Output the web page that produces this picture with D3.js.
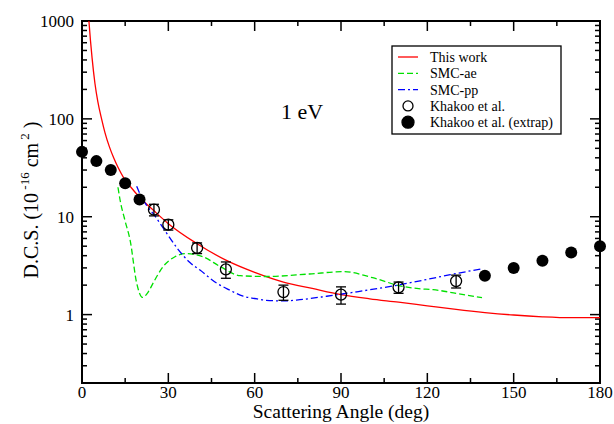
<!DOCTYPE html>
<html>
<head>
<meta charset="utf-8">
<script src="https://cdn.jsdelivr.net/npm/d3@7"></script>
<style>
  body { margin: 0; background: #fff; }
  text { font-family: "Liberation Serif", "Times New Roman", serif; }
</style>
</head>
<body>
<div id="chart"></div>
<script>
// Data
const thisWork = [[1.5,2500],[2.4,1000],[3.5,420],[4.5,230],[5.5,150],[6.8,100],[8,72],[9.5,52],[11,40],[12.5,32],[14.5,25],[17,20],[20,15.8],[25,11.5],[30,8.5],[40,5.3],[50,3.6],[60,2.7],[70,2.15],[80,1.85],[90,1.6],[100,1.45],[110,1.34],[120,1.23],[130,1.13],[140,1.05],[150,0.99],[160,0.95],[170,0.93],[180,0.93]];
const smcAe = [[12.5,20],[13.2,15],[15,9],[16.7,5.8],[19,2.1],[21,1.5],[23,1.7],[24.7,2.1],[28.2,3.1],[32.3,3.9],[35.8,4.2],[42,3.9],[48,3.1],[55,2.5],[64,2.45],[79,2.6],[91,2.75],[101,2.38],[110.5,1.97],[117,1.84],[122,1.8],[130,1.65],[139,1.49]];
const smcPp = [[19,20.5],[20,17.5],[22.5,13],[25,10.5],[29.4,6.8],[33,4.8],[37.5,3.4],[41,2.85],[46.8,2.1],[51,1.8],[56,1.54],[60,1.46],[64,1.4],[70,1.38],[75.7,1.42],[85,1.54],[95.5,1.71],[110.5,2.02],[117,2.2],[128,2.56],[139,2.94]];
const khakooAngle = [25, 30, 40, 50, 70, 90, 110, 130];
const khakooValue = [11.8, 8.3, 4.8, 2.9, 1.7, 1.6, 1.9, 2.2];
const khakooError = [1.6, 1.0, 0.6, 0.55, 0.3, 0.32, 0.25, 0.33];
const extrapAngle = [0, 5, 10, 15, 20, 140, 150, 160, 170, 180];
const extrapValue = [46, 37, 30, 22, 15, 2.5, 3.0, 3.55, 4.3, 5.0];
const xTicks = [0, 30, 60, 90, 120, 150, 180];
const yTicks = [1, 10, 100, 1000];

const width = 614, height = 424;
const margin = {top: 21, right: 14, bottom: 41, left: 82};
const iw = width - margin.left - margin.right, ih = height - margin.top - margin.bottom;

const svg = d3.select("#chart").append("svg").attr("width", width).attr("height", height);
const g = svg.append("g").attr("transform", `translate(${margin.left},${margin.top})`);

const x = d3.scaleLinear().domain([0, 180]).range([0, iw]);
const y = d3.scaleLog().domain([0.2, 1000]).range([ih, 0]);

g.append("clipPath").attr("id", "clip").append("rect").attr("width", iw).attr("height", ih);

// minor ticks for the log axis
let yMinor = [];
[0.1, 1, 10, 100].forEach(d => { for (let k = 2; k <= 9; k++) { let v = d * k; if (v >= 0.2 && v < 1000) yMinor.push(v); } });
const xMinor = d3.range(15, 180, 30);

function tickLines(sel, vals, len, side) {
  sel.selectAll(null).data(vals).enter().append("line")
    .attr("x1", d => side === "l" ? 0 : side === "r" ? iw : x(d))
    .attr("x2", d => side === "l" ? len : side === "r" ? iw - len : x(d))
    .attr("y1", d => side === "b" ? ih : side === "t" ? 0 : y(d))
    .attr("y2", d => side === "b" ? ih - len : side === "t" ? len : y(d))
    .attr("stroke", "#000").attr("stroke-width", 1.5);
}
const ticks = g.append("g");
tickLines(ticks, xTicks, 10, "b");
tickLines(ticks, xMinor, 5, "b");
tickLines(ticks, xTicks, 10, "t");
tickLines(ticks, xMinor, 5, "t");
tickLines(ticks, yTicks, 10, "l");
tickLines(ticks, yMinor, 5, "l");
tickLines(ticks, yTicks, 10, "r");
tickLines(ticks, yMinor, 5, "r");

g.append("rect").attr("width", iw).attr("height", ih)
  .attr("fill", "none").attr("stroke", "#000").attr("stroke-width", 2);

// tick labels
g.selectAll(".xl").data(xTicks).enter().append("text")
  .attr("x", d => x(d)).attr("y", ih + 15).attr("text-anchor", "middle")
  .attr("font-size", 17).text(d => d);
g.selectAll(".yl").data(yTicks).enter().append("text")
  .attr("x", -8).attr("y", d => y(d) + 6).attr("text-anchor", "end")
  .attr("font-size", 17).text(d => d);

// axis titles
svg.append("text").attr("x", margin.left + iw / 2).attr("y", 418)
  .attr("text-anchor", "middle").attr("font-size", 19.5)
  .text("Scattering Angle (deg)");
const yl = svg.append("text").attr("transform", "translate(38,200) rotate(-90)")
  .attr("text-anchor", "middle").attr("font-size", 20);
yl.append("tspan").text("D.C.S. (10");
yl.append("tspan").attr("dy", -9).attr("font-size", 13).text(" -16");
yl.append("tspan").attr("dy", 9).text(" cm");
yl.append("tspan").attr("dy", -9).attr("font-size", 13).text(" 2");
yl.append("tspan").attr("dy", 9).text(" )");

g.append("text").attr("x", 199).attr("y", 98).attr("font-size", 22).text("1 eV");

// curves
const line = d3.line().x(d => x(d[0])).y(d => y(d[1])).curve(d3.curveMonotoneX);
const curves = g.append("g").attr("clip-path", "url(#clip)");
curves.append("path").attr("d", line(thisWork)).attr("fill", "none")
  .attr("stroke", "#ff0000").attr("stroke-width", 1.3);
curves.append("path").attr("d", line(smcAe)).attr("fill", "none")
  .attr("stroke", "#00e000").attr("stroke-width", 1.3).attr("stroke-dasharray", "6,3");
curves.append("path").attr("d", line(smcPp)).attr("fill", "none")
  .attr("stroke", "#0000ff").attr("stroke-width", 1.3).attr("stroke-dasharray", "7,3,2,3");

// Khakoo measured points with error bars
const kh = khakooAngle.map((a, i) => ({a, v: khakooValue[i], e: khakooError[i]}));
const eb = g.append("g").attr("stroke", "#000").attr("stroke-width", 1.3);
kh.forEach(d => {
  const cx = x(d.a), y1 = y(d.v + d.e), y2 = y(d.v - d.e);
  eb.append("line").attr("x1", cx).attr("x2", cx).attr("y1", y1).attr("y2", y2);
  eb.append("line").attr("x1", cx - 5).attr("x2", cx + 5).attr("y1", y1).attr("y2", y1);
  eb.append("line").attr("x1", cx - 5).attr("x2", cx + 5).attr("y1", y2).attr("y2", y2);
});
g.selectAll(".kh").data(kh).enter().append("circle")
  .attr("cx", d => x(d.a)).attr("cy", d => y(d.v)).attr("r", 5.5)
  .attr("fill", "none").attr("stroke", "#000").attr("stroke-width", 1.3);

g.selectAll(".ex").data(extrapAngle).enter().append("circle")
  .attr("cx", d => x(d)).attr("cy", (d, i) => y(extrapValue[i])).attr("r", 6)
  .attr("fill", "#000");

// legend
const lg = svg.append("g").attr("transform", "translate(392,46)");
lg.append("rect").attr("width", 169).attr("height", 88).attr("fill", "#fff")
  .attr("stroke", "#000").attr("stroke-width", 1.3);
const items = [
  {name: "This work", color: "#ff0000", dash: null},
  {name: "SMC-ae", color: "#00e000", dash: "6,3"},
  {name: "SMC-pp", color: "#0000ff", dash: "7,3,2,3"},
  {name: "Khakoo et al.", marker: "open"},
  {name: "Khakoo et al. (extrap)", marker: "filled"}
];
items.forEach((it, i) => {
  const yy = 11 + i * 16.3;
  if (it.marker) {
    lg.append("circle").attr("cx", 16).attr("cy", yy).attr("r", it.marker === "open" ? 5 : 6)
      .attr("fill", it.marker === "open" ? "none" : "#000").attr("stroke", "#000").attr("stroke-width", 1.3);
  } else {
    lg.append("line").attr("x1", 6).attr("x2", 26).attr("y1", yy).attr("y2", yy)
      .attr("stroke", it.color).attr("stroke-width", 1.3).attr("stroke-dasharray", it.dash);
  }
  lg.append("text").attr("x", 38).attr("y", yy + 5).attr("font-size", 14).text(it.name);
});
</script>
</body>
</html>
